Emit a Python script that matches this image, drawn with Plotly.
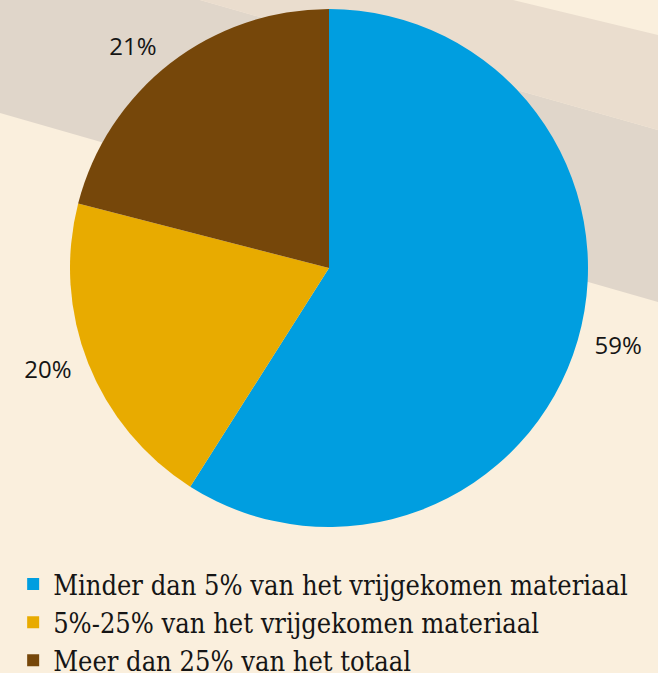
import plotly.graph_objects as go

labels = ["Minder dan 5% van het vrijgekomen materiaal",
          "5%-25% van het vrijgekomen materiaal",
          "Meer dan 25% van het totaal"]
values = [59, 20, 21]
colors = ["#009EE0", "#E8AB00", "#76470A"]

W, H = 658, 673
cx, cy, r = 329, 268, 259     # visible pie (px)
r_txt = 268                    # radius of the invisible pie that carries the outside labels


def dom(rad):
    return dict(x=[(cx - rad) / W, (cx + rad) / W],
                y=[max(0, 1 - (cy + rad) / H), min(1, 1 - (cy - rad) / H)])


fig = go.Figure()
fig.add_trace(go.Pie(
    labels=labels, values=values, sort=False, direction="clockwise", rotation=0,
    marker=dict(colors=colors, line=dict(width=0)),
    textinfo="none", domain=dom(r), automargin=False, showlegend=True,
))
fig.add_trace(go.Pie(
    labels=labels, values=values, sort=False, direction="clockwise", rotation=0,
    marker=dict(colors=["rgba(0,0,0,0)"] * 3, line=dict(width=0)),
    textinfo="percent", textposition="outside", texttemplate="%{percent:.0%}",
    outsidetextfont=dict(family="Open Sans", size=24, color="#151515"),
    domain=dom(r_txt), automargin=False, showlegend=False, hoverinfo="skip",
))


def px(x, y):
    return f"{x / W:.4f},{1 - y / H:.4f}"


dark = f"M {px(0,0)} L {px(200,0)} L {px(658,130)} L {px(658,302)} L {px(0,113)} Z"
light = f"M {px(200,0)} L {px(513,0)} L {px(658,35)} L {px(658,130)} Z"

fig.update_layout(
    width=W, height=H, autosize=False,
    margin=dict(l=0, r=0, t=0, b=0, autoexpand=False),
    paper_bgcolor="#FAEFDD", plot_bgcolor="#FAEFDD",
    shapes=[
        dict(type="path", xref="paper", yref="paper", path=dark, fillcolor="#E0D6CA", line=dict(width=0), layer="below"),
        dict(type="path", xref="paper", yref="paper", path=light, fillcolor="#EADDCE", line=dict(width=0), layer="below"),
    ],
    legend=dict(x=0.02, xanchor="left", y=1 - 560 / H, yanchor="top",
                font=dict(family="DejaVu Serif Condensed, Liberation Serif", size=27, color="#151515"),
                bgcolor="rgba(0,0,0,0)", traceorder="normal"),
)

fig.write_html("out.html", config={"displayModeBar": False},
               post_script="document.body.style.margin='0';document.body.style.overflow='hidden';"
                           "document.body.style.background='#FAEFDD';")
